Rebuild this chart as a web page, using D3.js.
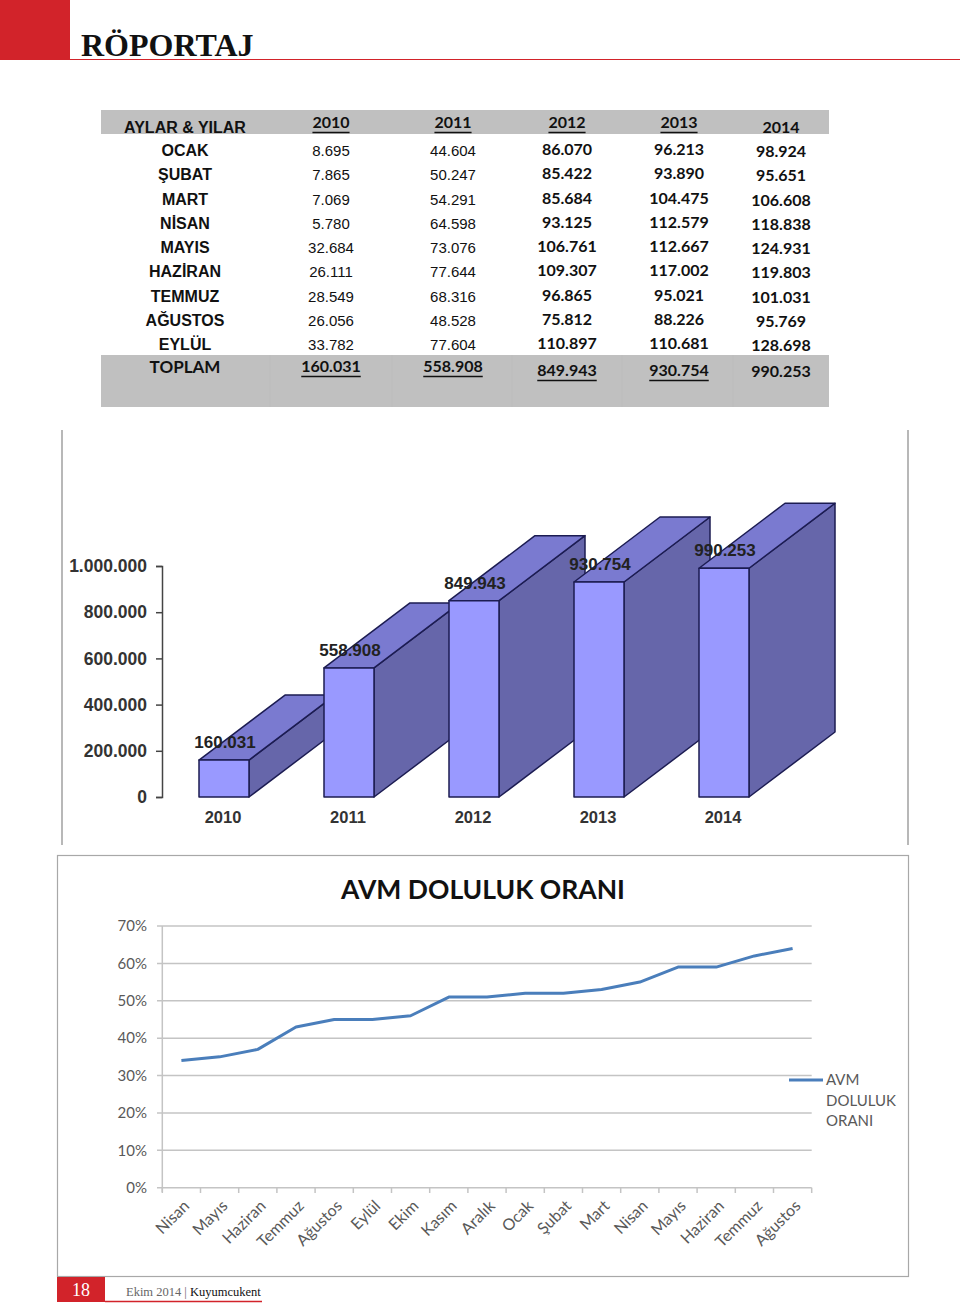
<!DOCTYPE html>
<html>
<head>
<meta charset="utf-8">
<script src="https://cdn.jsdelivr.net/npm/d3@7"></script>
<style>
  body { margin: 0; background: #fff; }
  svg { display: block; }
</style>
</head>
<body>
<div id="content"></div>
<script>
'use strict';

// table data (monthly sales per year)
var months = ['OCAK', 'ŞUBAT', 'MART', 'NİSAN', 'MAYIS', 'HAZİRAN', 'TEMMUZ', 'AĞUSTOS', 'EYLÜL'];
var years = ['2010', '2011', '2012', '2013', '2014'];
var values2010 = [8695, 7865, 7069, 5780, 32684, 26111, 28549, 26056, 33782];
var values2011 = [44604, 50247, 54291, 64598, 73076, 77644, 68316, 48528, 77604];
var values2012 = [86070, 85422, 85684, 93125, 106761, 109307, 96865, 75812, 110897];
var values2013 = [96213, 93890, 104475, 112579, 112667, 117002, 95021, 88226, 110681];
var values2014 = [98924, 95651, 106608, 118838, 124931, 119803, 101031, 95769, 128698];
var totals = [160031, 558908, 849943, 930754, 990253];
var barTicks = [0, 200000, 400000, 600000, 800000, 1000000];

// occupancy line chart
var occMonths = ['Nisan', 'Mayıs', 'Haziran', 'Temmuz', 'Ağustos', 'Eylül', 'Ekim', 'Kasım', 'Aralık',
    'Ocak', 'Şubat', 'Mart', 'Nisan', 'Mayıs', 'Haziran', 'Temmuz', 'Ağustos'];
var occValues = [0.34, 0.35, 0.37, 0.43, 0.45, 0.45, 0.46, 0.51, 0.51,
    0.52, 0.52, 0.53, 0.55, 0.59, 0.59, 0.62, 0.64];
var occTicks = [0, 0.1, 0.2, 0.3, 0.4, 0.5, 0.6, 0.7];

var tr = d3.formatLocale({ decimal: ',', thousands: '.', grouping: [3], currency: ['', ''] });
var fmt = tr.format(',d');

var ARIAL = '"Liberation Sans", Arial, sans-serif';
var CALIBRI = 'Lato, "Open Sans", sans-serif';
var SERIF = '"Liberation Serif", "DejaVu Serif", serif';

function run() {
    var svg = d3.select('#content').append('svg')
        .attr('width', 960)
        .attr('height', 1307);

    // ---- page header ----
    svg.append('rect').attr('x', 0).attr('y', 0).attr('width', 70).attr('height', 60).attr('fill', '#d2232a');
    svg.append('line').attr('x1', 70).attr('x2', 960).attr('y1', 59.5).attr('y2', 59.5)
        .attr('stroke', '#d2232a').attr('stroke-width', 1.2);
    svg.append('text').attr('x', 81).attr('y', 56)
        .style('font', 'bold 32px ' + SERIF).attr('fill', '#111')
        .text('RÖPORTAJ');

    drawTable(svg);
    drawBars(svg);
    drawLine(svg);

    // ---- footer ----
    svg.append('rect').attr('x', 57).attr('y', 1277).attr('width', 48).attr('height', 25).attr('fill', '#d2232a');
    svg.append('text').attr('x', 81).attr('y', 1296).attr('text-anchor', 'middle')
        .style('font', '18px ' + SERIF).attr('fill', '#fff').text('18');
    var ft = svg.append('text').attr('x', 126).attr('y', 1296).style('font', '12.5px ' + SERIF);
    ft.append('tspan').attr('fill', '#666').text('Ekim 2014 | ');
    ft.append('tspan').attr('fill', '#111').text('Kuyumcukent');
    svg.append('line').attr('x1', 105).attr('x2', 262).attr('y1', 1301.5).attr('y2', 1301.5)
        .attr('stroke', '#d2232a').attr('stroke-width', 1.5);
}

function drawTable(svg) {
    var g = svg.append('g');
    var colX = d3.scaleOrdinal().domain(['label'].concat(years)).range([185, 331, 453, 567, 679, 781]);
    var rowY = d3.scalePoint().domain(months).range([150, 344]);
    var cols = [values2010, values2011, values2012, values2013, values2014];

    // grey bands
    g.append('rect').attr('x', 101).attr('y', 110).attr('width', 728).attr('height', 24).attr('fill', '#c0c0c0');
    g.append('rect').attr('x', 101).attr('y', 355).attr('width', 728).attr('height', 52).attr('fill', '#c0c0c0');
    [270, 392, 512, 622, 733].forEach(function (x) {
        g.append('line').attr('x1', x).attr('x2', x).attr('y1', 355).attr('y2', 407)
            .attr('stroke', '#bcbcbc').attr('stroke-width', 1);
    });

    // header
    g.append('text').attr('x', colX('label')).attr('y', 133).attr('text-anchor', 'middle')
        .style('font', 'bold 16px ' + ARIAL).attr('fill', '#111').text('AYLAR & YILAR');

    function underlined(sel, x, y, txt, underline, font) {
        var t = sel.append('text').attr('x', x).attr('y', y).attr('text-anchor', 'middle')
            .style('font', font).attr('fill', '#111').text(txt);
        if (underline) {
            var w = t.node().getComputedTextLength();
            sel.append('line').attr('x1', x - w / 2).attr('x2', x + w / 2)
                .attr('y1', y + 4.5).attr('y2', y + 4.5)
                .attr('stroke', '#111').attr('stroke-width', 1.5);
        }
    }

    years.forEach(function (yr, i) {
        underlined(g, colX(yr), i < 4 ? 128 : 133, yr, i < 4, 'bold 16px ' + CALIBRI);
    });

    // month rows
    g.selectAll('.month').data(months).enter().append('text')
        .attr('class', 'month')
        .attr('x', colX('label'))
        .attr('y', function (d) { return rowY(d) + 6; })
        .attr('text-anchor', 'middle')
        .style('font', 'bold 16px ' + ARIAL)
        .attr('fill', '#111')
        .text(function (d) { return d; });

    cols.forEach(function (vals, ci) {
        var bold = ci >= 2;
        var shift = ci === 4 ? 1.5 : (ci >= 2 ? -0.5 : 0.5);
        g.selectAll('.v' + ci).data(vals).enter().append('text')
            .attr('class', 'v' + ci)
            .attr('x', colX(years[ci]))
            .attr('y', function (d, i) { return rowY(months[i]) + 5.5 + shift; })
            .attr('text-anchor', 'middle')
            .style('font', bold ? 'bold 16px ' + CALIBRI : '15px ' + ARIAL)
            .attr('fill', '#111')
            .text(function (d) { return fmt(d); });
    });

    // totals
    g.append('text').attr('x', colX('label')).attr('y', 373).attr('text-anchor', 'middle')
        .style('font', 'bold 17px ' + CALIBRI).attr('fill', '#111').text('TOPLAM');
    totals.forEach(function (t, i) {
        underlined(g, colX(years[i]), i < 2 ? 372 : (i < 4 ? 376 : 377), fmt(t), i < 4, 'bold 16px ' + CALIBRI);
    });
}

function drawBars(svg) {
    var g = svg.append('g');
    var dx = 86, dy = -65, bw = 50;

    var y = d3.scaleLinear().domain([0, 1000000]).range([797, 566]);
    var x = d3.scalePoint().domain(years).range([224, 724]);

    // frame lines
    [62, 908].forEach(function (fx) {
        g.append('line').attr('x1', fx).attr('x2', fx).attr('y1', 430).attr('y2', 845)
            .attr('stroke', '#a0a0a0').attr('stroke-width', 1.5);
    });

    // axis
    var axis = g.append('g').attr('transform', 'translate(162,0)')
        .call(d3.axisLeft(y).tickValues(barTicks).tickSize(6).tickFormat(fmt));
    axis.select('.domain').attr('stroke', '#444').attr('stroke-width', 1.5);
    axis.selectAll('.tick line').attr('stroke', '#444').attr('stroke-width', 1.5);
    axis.selectAll('.tick text')
        .attr('x', -15)
        .style('font', 'bold 17.5px ' + ARIAL)
        .attr('fill', '#333');

    var data = totals.map(function (v, i) { return { year: years[i], value: v }; });
    var bar = g.selectAll('.bar').data(data).enter().append('g').attr('class', 'bar');

    function pts(arr) { return arr.map(function (p) { return p.join(','); }).join(' '); }

    bar.append('polygon')
        .attr('points', function (d) {
            var r = x(d.year) + bw / 2, t = y(d.value), b = y(0);
            return pts([[r, t], [r + dx, t + dy], [r + dx, b + dy], [r, b]]);
        })
        .attr('fill', '#6666aa');
    bar.append('polygon')
        .attr('points', function (d) {
            var l = x(d.year) - bw / 2, r = l + bw, t = y(d.value);
            return pts([[l, t], [l + dx, t + dy], [r + dx, t + dy], [r, t]]);
        })
        .attr('fill', '#7a7ad0');
    bar.append('rect')
        .attr('x', function (d) { return x(d.year) - bw / 2; })
        .attr('y', function (d) { return y(d.value); })
        .attr('width', bw)
        .attr('height', function (d) { return y(0) - y(d.value); })
        .attr('fill', '#9999ff');
    bar.selectAll('polygon, rect')
        .attr('stroke', '#1c1c52').attr('stroke-width', 1.5).attr('stroke-linejoin', 'round');

    g.selectAll('.vlabel').data(data).enter().append('text')
        .attr('class', 'vlabel')
        .attr('x', function (d) { return x(d.year) + 1; })
        .attr('y', function (d) { return y(d.value) - 12; })
        .attr('text-anchor', 'middle')
        .style('font', 'bold 17px ' + ARIAL)
        .attr('fill', '#222')
        .text(function (d) { return fmt(d.value); });

    g.selectAll('.xlabel').data(years).enter().append('text')
        .attr('class', 'xlabel')
        .attr('x', function (d) { return x(d) - 1; })
        .attr('y', 823)
        .attr('text-anchor', 'middle')
        .style('font', 'bold 16.5px ' + ARIAL)
        .attr('fill', '#333')
        .text(function (d) { return d; });
}

function drawLine(svg) {
    var g = svg.append('g');
    g.append('rect').attr('x', 57.5).attr('y', 855.5).attr('width', 851).attr('height', 421)
        .attr('fill', '#fff').attr('stroke', '#a8a8a8').attr('stroke-width', 1.2);

    g.append('text').attr('x', 483).attr('y', 899).attr('text-anchor', 'middle')
        .style('font', 'bold 26.5px ' + CALIBRI).attr('fill', '#111')
        .text('AVM DOLULUK ORANI');

    var idx = d3.range(occMonths.length);
    var x = d3.scaleBand().domain(idx).range([162.3, 811.7]).padding(0);
    var y = d3.scaleLinear().domain([0, 0.7]).range([1187.7, 926]);

    // gridlines
    g.selectAll('.grid').data(occTicks).enter().append('line')
        .attr('class', 'grid')
        .attr('x1', 157).attr('x2', 811.7)
        .attr('y1', function (d) { return y(d); })
        .attr('y2', function (d) { return y(d); })
        .attr('stroke', '#c4c4c4').attr('stroke-width', 1.5);
    g.append('line').attr('x1', 162.3).attr('x2', 162.3).attr('y1', 926).attr('y2', 1192)
        .attr('stroke', '#c4c4c4').attr('stroke-width', 1.5);

    // category tick marks between bands
    g.selectAll('.xtick').data(d3.range(occMonths.length + 1)).enter().append('line')
        .attr('class', 'xtick')
        .attr('x1', function (d) { return 162.3 + d * x.bandwidth(); })
        .attr('x2', function (d) { return 162.3 + d * x.bandwidth(); })
        .attr('y1', 1187.7).attr('y2', 1193)
        .attr('stroke', '#c4c4c4').attr('stroke-width', 1.5);

    var pct = d3.format('.0%');
    g.selectAll('.ylab').data(occTicks).enter().append('text')
        .attr('class', 'ylab')
        .attr('x', 147)
        .attr('y', function (d) { return y(d); })
        .attr('dy', '0.35em')
        .attr('text-anchor', 'end')
        .style('font', '15px ' + CALIBRI)
        .attr('fill', '#595959')
        .text(pct);

    g.selectAll('.xlab').data(idx).enter().append('text')
        .attr('class', 'xlab')
        .attr('transform', function (d) {
            return 'translate(' + (x(d) + x.bandwidth() / 2 + 5) + ',1203) rotate(-45)';
        })
        .attr('text-anchor', 'end')
        .attr('dy', '0.35em')
        .style('font', '16px ' + CALIBRI)
        .attr('fill', '#595959')
        .text(function (d) { return occMonths[d]; });

    var line = d3.line()
        .x(function (d, i) { return x(i) + x.bandwidth() / 2; })
        .y(function (d) { return y(d); });
    g.append('path').datum(occValues)
        .attr('d', line)
        .attr('fill', 'none')
        .attr('stroke', '#4a7ebb')
        .attr('stroke-width', 3)
        .attr('stroke-linejoin', 'round');

    // legend
    g.append('line').attr('x1', 789).attr('x2', 823).attr('y1', 1080).attr('y2', 1080)
        .attr('stroke', '#4a7ebb').attr('stroke-width', 3);
    g.selectAll('.leg').data(['AVM', 'DOLULUK', 'ORANI']).enter().append('text')
        .attr('class', 'leg')
        .attr('x', 826)
        .attr('y', function (d, i) { return 1080 + i * 20.5; })
        .attr('dy', '0.35em')
        .style('font', '15px ' + CALIBRI)
        .attr('fill', '#595959')
        .text(function (d) { return d; });
}

document.addEventListener('DOMContentLoaded', run);
</script>
</body>
</html>
